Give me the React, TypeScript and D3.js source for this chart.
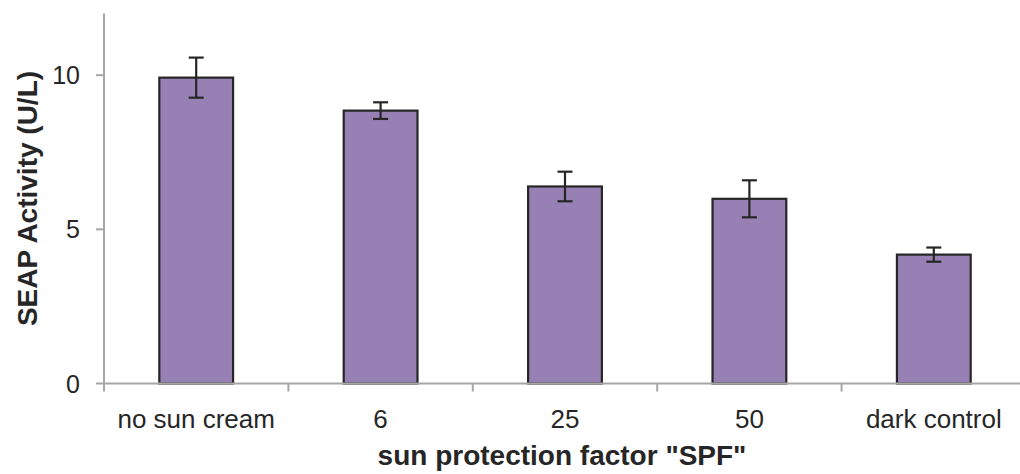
import React, { useEffect, useRef } from "react";
import * as d3 from "d3";

const categories = ["no sun cream", "6", "25", "50", "dark control"];
const activity = [9.92, 8.85, 6.39, 5.99, 4.18];
const errors = [0.65, 0.27, 0.48, 0.6, 0.23];
const yTicks = [0, 5, 10];

const App: React.FC = () => {
  const ref = useRef<SVGSVGElement>(null);

  useEffect(() => {
    if (!ref.current) return;
    const svg = d3.select(ref.current);
    svg.selectAll("*").remove();

    const left = 104;
    const right = 1026;
    const top = 13.5;
    const bottom = 383.5;

    const data = categories.map((c, i) => ({ cat: c, value: activity[i], err: errors[i] }));

    const x = d3.scaleBand().domain(categories).range([left, right]).padding(0);
    const y = d3.scaleLinear().domain([0, 12]).range([bottom, top]);

    const barW = x.bandwidth() * 0.4;
    const capW = 15;
    const axisColor = "#a6a6a6";
    const font = "'Liberation Sans', Arial, sans-serif";

    // y axis
    svg.append("line")
      .attr("x1", left).attr("x2", left)
      .attr("y1", y(12)).attr("y2", bottom)
      .attr("stroke", axisColor).attr("stroke-width", 2);
    svg.selectAll("line.ytick")
      .data(yTicks)
      .enter()
      .append("line")
      .attr("x1", left - 8).attr("x2", left)
      .attr("y1", (d) => y(d)).attr("y2", (d) => y(d))
      .attr("stroke", axisColor).attr("stroke-width", 2);
    svg.selectAll("text.ylab")
      .data(yTicks)
      .enter()
      .append("text")
      .attr("x", 80)
      .attr("y", (d) => y(d))
      .attr("dy", "0.36em")
      .attr("text-anchor", "end")
      .style("font-family", font)
      .style("font-size", "25px")
      .attr("fill", "#262626")
      .text((d) => d);

    // bars
    svg.selectAll("rect.bar")
      .data(data)
      .enter()
      .append("rect")
      .attr("x", (d) => (x(d.cat) || 0) + (x.bandwidth() - barW) / 2)
      .attr("y", (d) => y(d.value))
      .attr("width", barW)
      .attr("height", (d) => bottom - y(d.value))
      .attr("fill", "#9781b4")
      .attr("stroke", "#262626")
      .attr("stroke-width", 2.2);

    // x axis
    svg.append("line")
      .attr("x1", left).attr("x2", 1020)
      .attr("y1", bottom).attr("y2", bottom)
      .attr("stroke", axisColor).attr("stroke-width", 2);
    const xTickPos = categories.map((c) => x(c) || 0);
    svg.selectAll("line.xtick")
      .data(xTickPos)
      .enter()
      .append("line")
      .attr("x1", (d) => d).attr("x2", (d) => d)
      .attr("y1", bottom).attr("y2", bottom + 8)
      .attr("stroke", axisColor).attr("stroke-width", 2);

    // error bars
    const eb = svg.selectAll("g.err").data(data).enter().append("g")
      .attr("stroke", "#262626").attr("stroke-width", 2.2);
    const cx = (d: { cat: string }) => (x(d.cat) || 0) + x.bandwidth() / 2;
    eb.append("line")
      .attr("x1", cx).attr("x2", cx)
      .attr("y1", (d) => y(d.value + d.err)).attr("y2", (d) => y(d.value - d.err));
    eb.append("line")
      .attr("x1", (d) => cx(d) - capW / 2).attr("x2", (d) => cx(d) + capW / 2)
      .attr("y1", (d) => y(d.value + d.err)).attr("y2", (d) => y(d.value + d.err));
    eb.append("line")
      .attr("x1", (d) => cx(d) - capW / 2).attr("x2", (d) => cx(d) + capW / 2)
      .attr("y1", (d) => y(d.value - d.err)).attr("y2", (d) => y(d.value - d.err));

    // category labels
    svg.selectAll("text.xlab")
      .data(categories)
      .enter()
      .append("text")
      .attr("x", (d) => (x(d) || 0) + x.bandwidth() / 2)
      .attr("y", 428)
      .attr("text-anchor", "middle")
      .style("font-family", font)
      .style("font-size", "26px")
      .attr("fill", "#262626")
      .text((d) => d);

    // titles
    svg.append("text")
      .attr("x", 562)
      .attr("y", 465)
      .attr("text-anchor", "middle")
      .style("font-family", font)
      .style("font-size", "28px")
      .style("font-weight", "bold")
      .attr("fill", "#262626")
      .text('sun protection factor "SPF"');

    svg.append("text")
      .attr("transform", `translate(37,${(top + bottom) / 2}) rotate(-90)`)
      .attr("text-anchor", "middle")
      .style("font-family", font)
      .style("font-size", "28px")
      .style("font-weight", "bold")
      .attr("fill", "#262626")
      .text("SEAP Activity (U/L)");
  }, []);

  return (
    <svg
      ref={ref}
      width={1020}
      height={474}
      style={{ position: "absolute", left: 0, top: 0, background: "#fff" }}
    />
  );
};

export default App;
